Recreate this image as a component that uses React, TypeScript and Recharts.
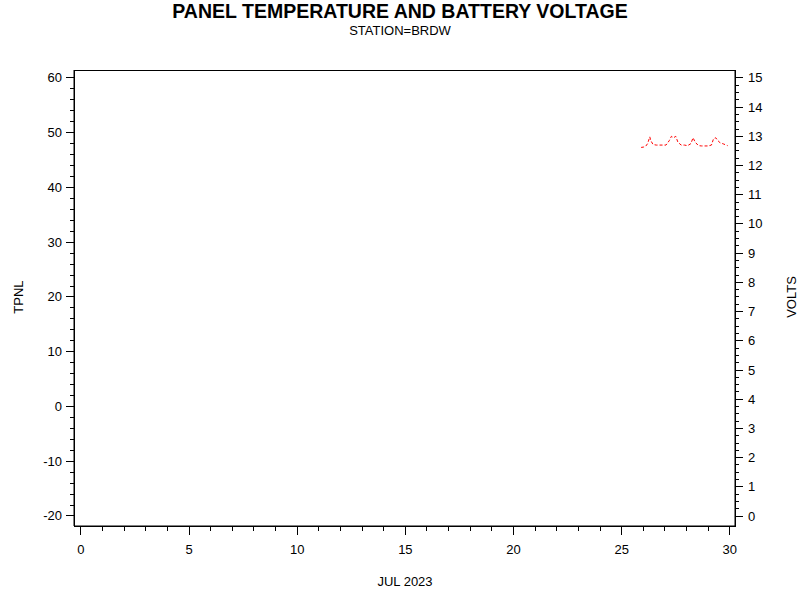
import { ComposedChart, Line, ReferenceArea, XAxis, YAxis } from "recharts"

// battery voltage readings, day of month (JUL 2023)
const days = [
  25.9, 26.0, 26.1, 26.2, 26.3, 26.35, 26.45, 26.6, 26.75, 26.9, 27.05, 27.2, 27.3, 27.4, 27.5, 27.6,
  27.75, 27.9, 28.05, 28.2, 28.3, 28.4, 28.55, 28.7, 28.85, 29.0, 29.15, 29.25, 29.35, 29.45, 29.55,
  29.7, 29.9,
]
const volts = [
  12.62, 12.63, 12.65, 12.75, 12.98, 12.85, 12.72, 12.7, 12.7, 12.7, 12.7, 12.85, 13.0, 12.95, 13.0,
  12.8, 12.7, 12.7, 12.68, 12.75, 12.95, 12.8, 12.68, 12.67, 12.67, 12.67, 12.7, 12.92, 12.95, 12.85,
  12.78, 12.74, 12.68,
]

const xMajor = [0, 5, 10, 15, 20, 25, 30]
const leftMajor = [-20, -10, 0, 10, 20, 30, 40, 50, 60]
const rightMajor = [0, 1, 2, 3, 4, 5, 6, 7, 8, 9, 10, 11, 12, 13, 14, 15]

const xTicks = Array.from({ length: 31 }, (_, i) => i)
const leftTicks = Array.from({ length: 41 }, (_, i) => -20 + i * 2)
const rightTicks = Array.from({ length: 61 }, (_, i) => i * 0.25)

const data = days.map((d, i) => ({ day: d, volts: volts[i] }))

const font = "'Liberation Sans', Arial, sans-serif"

const LeftTick = (props: any) => {
  const { x, y, payload } = props
  const major = leftMajor.includes(payload.value)
  return (
    <g>
      <line x1={x} x2={x - (major ? 8 : 4)} y1={y} y2={y} stroke="#000" shapeRendering="crispEdges" />
      {major && (
        <text x={x - 12} y={y} dy={4.5} textAnchor="end" fontSize={13} fontFamily={font} fill="#000">
          {payload.value}
        </text>
      )}
    </g>
  )
}

const RightTick = (props: any) => {
  const { x, y, payload } = props
  const major = rightMajor.includes(payload.value)
  return (
    <g>
      <line x1={x} x2={x + (major ? 8 : 4)} y1={y} y2={y} stroke="#000" shapeRendering="crispEdges" />
      {major && (
        <text x={x + 13} y={y} dy={4.5} textAnchor="start" fontSize={13} fontFamily={font} fill="#000">
          {payload.value}
        </text>
      )}
    </g>
  )
}

const BottomTick = (props: any) => {
  const { x, y, payload } = props
  const major = xMajor.includes(payload.value)
  return (
    <g>
      <line x1={x} x2={x} y1={y + 1} y2={y + (major ? 9 : 5)} stroke="#000" shapeRendering="crispEdges" />
      {major && (
        <text x={x} y={y + 28} textAnchor="middle" fontSize={13} fontFamily={font} fill="#000">
          {payload.value}
        </text>
      )}
    </g>
  )
}

export default function App() {
  return (
    <div style={{ position: "absolute", left: 0, top: 0, width: 800, height: 600, background: "#fff" }}>
      <ComposedChart width={800} height={600} data={data} margin={{ top: 70, right: 0, bottom: 0, left: 0 }}>
        <XAxis
          dataKey="day"
          type="number"
          domain={[-0.32, 30.24]}
          allowDataOverflow
          ticks={xTicks}
          interval={0}
          height={74}
          tickSize={0}
          tickMargin={0}
          tickLine={false}
          axisLine={{ stroke: "#000" }}
          tick={<BottomTick />}
        />
        <YAxis
          yAxisId="left"
          type="number"
          domain={[-21.83, 61.46]}
          allowDataOverflow
          ticks={leftTicks}
          interval={0}
          width={74}
          tickSize={0}
          tickMargin={0}
          tickLine={false}
          axisLine={{ stroke: "#000" }}
          tick={<LeftTick />}
        />
        <YAxis
          yAxisId="right"
          orientation="right"
          type="number"
          domain={[-0.34, 15.27]}
          allowDataOverflow
          ticks={rightTicks}
          interval={0}
          width={65}
          tickSize={0}
          tickMargin={0}
          tickLine={false}
          axisLine={{ stroke: "#000" }}
          tick={<RightTick />}
        />
        <ReferenceArea
          yAxisId="right"
          x1={-0.32}
          x2={30.24}
          y1={-0.34}
          y2={15.27}
          fill="none"
          stroke="#000"
          strokeWidth={1}
          fillOpacity={0}
          shapeRendering="crispEdges"
        />
        <Line
          yAxisId="right"
          dataKey="volts"
          type="linear"
          stroke="#ff0000"
          strokeWidth={1}
          strokeDasharray="3 2"
          dot={false}
          isAnimationActive={false}
        />
      </ComposedChart>
      <svg width={800} height={600} style={{ position: "absolute", left: 0, top: 0, pointerEvents: "none" }}>
        <text x={400} y={18} textAnchor="middle" fontSize={19.5} fontWeight="bold" fontFamily={font} fill="#000">
          PANEL TEMPERATURE AND BATTERY VOLTAGE
        </text>
        <text x={400} y={35} textAnchor="middle" fontSize={13} fontFamily={font} fill="#000">
          STATION=BRDW
        </text>
        <text x={405} y={586} textAnchor="middle" fontSize={13} fontFamily={font} fill="#000">
          JUL 2023
        </text>
        <text x={23} y={297} transform="rotate(-90 23 297)" textAnchor="middle" fontSize={13} fontFamily={font} fill="#000">
          TPNL
        </text>
        <text x={796} y={297} transform="rotate(-90 796 297)" textAnchor="middle" fontSize={13} fontFamily={font} fill="#000">
          VOLTS
        </text>
      </svg>
    </div>
  )
}
